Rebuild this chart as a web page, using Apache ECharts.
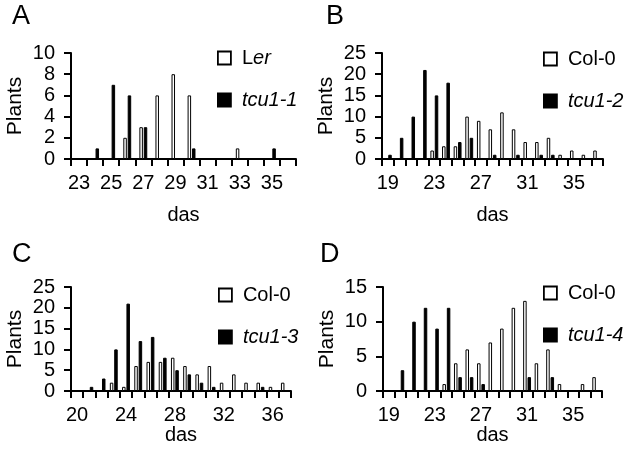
<!DOCTYPE html>
<html>
<head>
<meta charset="utf-8">
<script src="https://cdn.jsdelivr.net/npm/echarts@6/dist/echarts.min.js"></script>
<style>
html,body{margin:0;padding:0;background:#fff;}
#chart{width:630px;height:453px;}
</style>
</head>
<body>
<div id="chart"></div>
<script>
// Panel A
var catsA = ['23','24','25','26','27','28','29','30','31','32','33','34','35','36'];
var lerA   = [0,0,0,2,3,6,8,6,0,0,1,0,0,0];
var tcu11A = [0,1,7,6,3,0,0,1,0,0,0,0,1,0];
// Panel B
var catsB = ['19','20','21','22','23','24','25','26','27','28','29','30','31','32','33','34','35','36','37'];
var colB   = [0,0,0,0,2,3,3,10,9,7,11,7,4,4,5,1,2,1,2];
var tcu12B = [1,5,10,21,15,18,4,5,0,1,0,1,0,1,1,0,0,0,0];
// Panel C
var catsC = ['20','21','22','23','24','25','26','27','28','29','30','31','32','33','34','35','36','37'];
var colC   = [0,0,0,2,1,6,7,7,8,6,4,6,2,4,2,2,1,2];
var tcu13C = [0,1,3,10,21,12,13,8,5,4,2,1,0,0,0,1,0,0];
// Panel D
var catsD = ['19','20','21','22','23','24','25','26','27','28','29','30','31','32','33','34','35','36','37'];
var colD   = [0,0,0,0,0,1,4,6,4,7,9,12,13,4,6,1,0,1,2];
var tcu14D = [0,3,10,12,9,12,2,2,1,0,0,0,2,0,2,0,0,0,0];

var yMaxA = 10, yIntA = 2;
var yMaxB = 25, yIntB = 5;
var yMaxC = 25, yIntC = 5;
var yMaxD = 15, yIntD = 5;

var FONT = 'Liberation Sans, Arial, sans-serif';
var chart = echarts.init(document.getElementById('chart'));

var grids = [
  {left:71, top:53, width:225, height:106},
  {left:382, top:53, width:221, height:106},
  {left:71, top:287, width:220, height:104},
  {left:383, top:287, width:219, height:104}
];
var cats = [catsA, catsB, catsC, catsD];
var labInt = [1,3,3,3];
var xNameGap = [46,46,31,31];
var yMax = [yMaxA,yMaxB,yMaxC,yMaxD];
var yInt = [yIntA,yIntB,yIntC,yIntD];

function xAx(i){
  return {
    type:'category', gridIndex:i, data:cats[i],
    axisLine:{show:true, lineStyle:{color:'#000', width:2}},
    axisTick:{show:true, interval:0, length:7, lineStyle:{color:'#000', width:2}},
    axisLabel:{interval:labInt[i], margin:14, fontSize:20, color:'#000', fontFamily:FONT},
    splitLine:{show:false},
    name:'das', nameLocation:'middle', nameGap:xNameGap[i],
    nameTextStyle:{fontSize:20, color:'#000', fontFamily:FONT}
  };
}
function yAx(i){
  return {
    type:'value', gridIndex:i, min:0, max:yMax[i], interval:yInt[i],
    axisLine:{show:true, lineStyle:{color:'#000', width:2}},
    axisTick:{show:true, length:7, lineStyle:{color:'#000', width:2}},
    axisLabel:{margin:16, fontSize:20, color:'#000', fontFamily:FONT},
    splitLine:{show:false},
    name:'Plants', nameLocation:'middle', nameGap:45, nameRotate:90,
    nameTextStyle:{fontSize:21, color:'#000', fontFamily:FONT}
  };
}
function barS(name, data, i, fill){
  return {
    type:'bar', name:name, xAxisIndex:i, yAxisIndex:i, data:data,
    barWidth:3.5, barGap:'25%',
    itemStyle:{color:fill, borderColor:'#000', borderWidth:1},
    animation:false
  };
}
function leg(i, names, left, top){
  return {
    orient:'vertical', left:left, top:top, itemWidth:13, itemHeight:13, itemGap:22,
    data:names.map(function(n){return {name:n, icon:'rect'};}),
    selectedMode:false,
    itemStyle:{borderWidth:1.8, borderColor:'#000'},
    formatter:function(n){
      if(n==='Ler') return '{r|L}{i|er}';
      if(n.indexOf('tcu')===0) return '{i|'+n+'}';
      return '{r|'+n+'}';
    },
    textStyle:{fontSize:20, color:'#000', fontFamily:FONT, padding:[0,0,0,6],
      rich:{r:{fontSize:20, fontFamily:FONT, color:'#000'}, i:{fontSize:20, fontStyle:'italic', fontFamily:FONT, color:'#000'}}}
  };
}

var option = {
  backgroundColor:'#fff',
  animation:false,
  grid:grids,
  xAxis:[xAx(0),xAx(1),xAx(2),xAx(3)],
  yAxis:[yAx(0),yAx(1),yAx(2),yAx(3)],
  legend:[
    leg(0,['Ler','tcu1-1'],212,43),
    leg(1,['Col-0','tcu1-2'],538,44),
    leg(2,['Col-0','tcu1-3'],213,280),
    leg(3,['Col-0','tcu1-4'],538,278)
  ],
  series:[
    barS('Ler', lerA, 0, '#fff'),
    barS('tcu1-1', tcu11A, 0, '#000'),
    barS('Col-0', colB, 1, '#fff'),
    barS('tcu1-2', tcu12B, 1, '#000'),
    barS('Col-0', colC, 2, '#fff'),
    barS('tcu1-3', tcu13C, 2, '#000'),
    barS('Col-0', colD, 3, '#fff'),
    barS('tcu1-4', tcu14D, 3, '#000')
  ],
  graphic:[
    {type:'text', left:12, top:3, style:{text:'A', fontSize:27, fill:'#000', fontFamily:FONT}},
    {type:'text', left:326, top:3, style:{text:'B', fontSize:27, fill:'#000', fontFamily:FONT}},
    {type:'text', left:12, top:241, style:{text:'C', fontSize:27, fill:'#000', fontFamily:FONT}},
    {type:'text', left:320, top:241, style:{text:'D', fontSize:27, fill:'#000', fontFamily:FONT}}
  ]
};
chart.setOption(option);
</script>
</body>
</html>
